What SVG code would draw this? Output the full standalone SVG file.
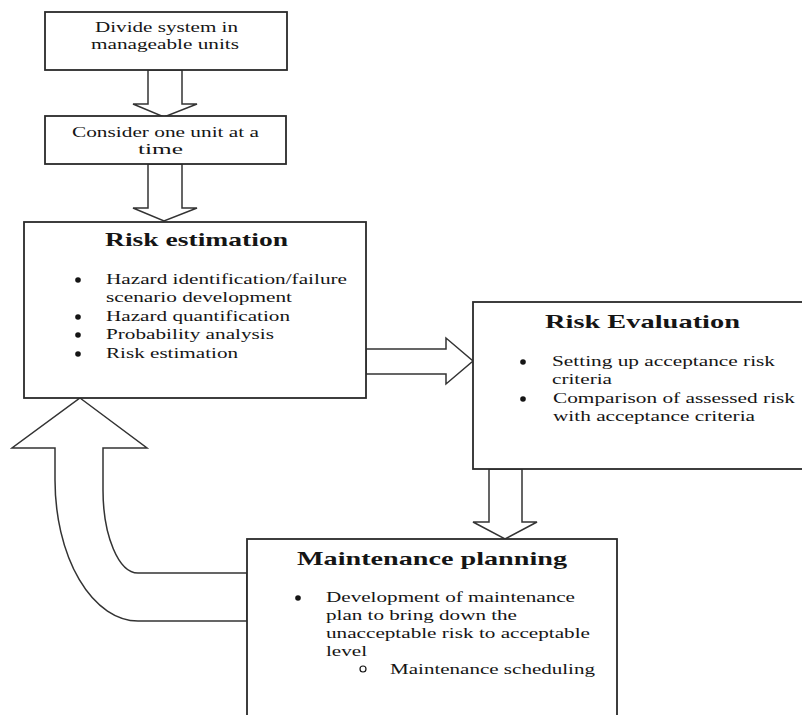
<svg xmlns="http://www.w3.org/2000/svg" width="802" height="715" viewBox="0 0 802 715">
<style>
.box{fill:#fff;stroke:#2a2a2a;stroke-width:1.8}
.arr{fill:#fff;stroke:#333;stroke-width:1.5;stroke-linejoin:miter}
text{font-family:"Liberation Serif","Times New Roman",serif;fill:#151515;font-size:15px}
.t{font-weight:bold;font-size:19.5px}
.dot{fill:#151515}
</style>
<rect width="802" height="715" fill="#fff"/>
<g id="connectors">
<polygon class="arr" points="148,70 182,70 182,104 197,104 164,117 133,104 148,104"/>
<polygon class="arr" points="148,164 182,164 182,208 197,208 164,221 133,208 148,208"/>
<polygon class="arr" points="366,349 446,349 446,338 473,361 446,384 446,374 366,374"/>
<polygon class="arr" points="489,469 522,469 522,522 537,522 505,539 473,522 489,522"/>
<path class="arr" d="M80,398 L147,448 L103,448 L103,490 A35,83 0 0 0 138,573 L247,573 L247,621 L138,621 A83,141 0 0 1 55,480 L55,448 L12,448 Z"/>
</g>
<g id="divide">
<rect class="box" x="45" y="12" width="242" height="58"/>
<text x="95" y="31.5" textLength="143" lengthAdjust="spacingAndGlyphs">Divide system in</text>
<text x="91" y="49" textLength="148" lengthAdjust="spacingAndGlyphs">manageable units</text>
</g>
<g id="consider">
<rect class="box" x="45" y="116" width="241" height="48"/>
<text x="72" y="136.5" textLength="187" lengthAdjust="spacingAndGlyphs">Consider one unit at a</text>
<text x="138" y="154" textLength="45" lengthAdjust="spacingAndGlyphs">time</text>
</g>
<g id="risk-estimation">
<rect class="box" x="24" y="222" width="342" height="176"/>
<text class="t" x="105" y="246" textLength="183" lengthAdjust="spacingAndGlyphs">Risk estimation</text>
<circle class="dot" cx="78" cy="280" r="2.8"/>
<text x="106" y="284" textLength="241" lengthAdjust="spacingAndGlyphs">Hazard identification/failure</text>
<text x="106" y="302" textLength="186" lengthAdjust="spacingAndGlyphs">scenario development</text>
<circle class="dot" cx="78" cy="317" r="2.8"/>
<text x="106" y="321" textLength="184" lengthAdjust="spacingAndGlyphs">Hazard quantification</text>
<circle class="dot" cx="78" cy="335" r="2.8"/>
<text x="106" y="339" textLength="168" lengthAdjust="spacingAndGlyphs">Probability analysis</text>
<circle class="dot" cx="78" cy="354" r="2.8"/>
<text x="106" y="358" textLength="132" lengthAdjust="spacingAndGlyphs">Risk estimation</text>
</g>
<g id="risk-evaluation">
<rect class="box" x="473" y="302" width="340" height="167"/>
<text class="t" x="545" y="328" textLength="195" lengthAdjust="spacingAndGlyphs">Risk Evaluation</text>
<circle class="dot" cx="523" cy="362" r="2.8"/>
<text x="552" y="366" textLength="223" lengthAdjust="spacingAndGlyphs">Setting up acceptance risk</text>
<text x="552" y="384" textLength="60" lengthAdjust="spacingAndGlyphs">criteria</text>
<circle class="dot" cx="523" cy="399" r="2.8"/>
<text x="553" y="403" textLength="242" lengthAdjust="spacingAndGlyphs">Comparison of assessed risk</text>
<text x="553" y="421" textLength="202" lengthAdjust="spacingAndGlyphs">with acceptance criteria</text>
</g>
<g id="maintenance-planning">
<rect class="box" x="247" y="539" width="370" height="190"/>
<text class="t" x="297" y="565" textLength="270" lengthAdjust="spacingAndGlyphs">Maintenance planning</text>
<circle class="dot" cx="298" cy="598" r="2.8"/>
<text x="326" y="602" textLength="249" lengthAdjust="spacingAndGlyphs">Development of maintenance</text>
<text x="326" y="620" textLength="191" lengthAdjust="spacingAndGlyphs">plan to bring down the</text>
<text x="326" y="638" textLength="264" lengthAdjust="spacingAndGlyphs">unacceptable risk to acceptable</text>
<text x="326" y="656" textLength="41" lengthAdjust="spacingAndGlyphs">level</text>
<circle cx="363" cy="669" r="3" fill="none" stroke="#151515" stroke-width="1.2"/>
<text x="390" y="674" textLength="205" lengthAdjust="spacingAndGlyphs">Maintenance scheduling</text>
</g>
</svg>
